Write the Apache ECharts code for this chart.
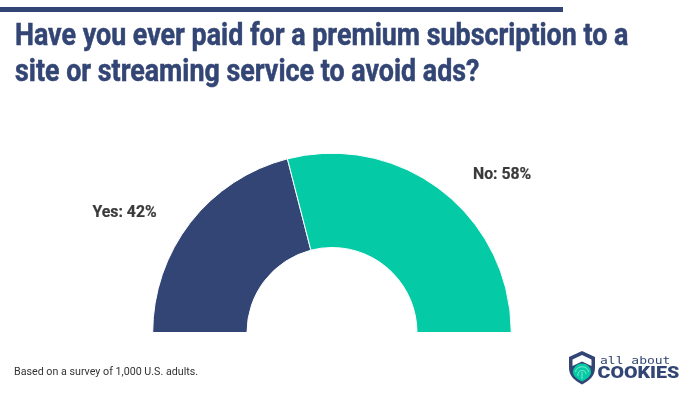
<!DOCTYPE html>
<html><head><meta charset="utf-8">
<style>html,body{margin:0;padding:0;background:#fff}#c{width:700px;height:402px}</style>
<script src="https://cdn.jsdelivr.net/npm/echarts@6/dist/echarts.min.js"></script>
</head><body><div id="c"></div>
<script>
const categories = ["Yes", "No"];
const values = [42, 58];
const colors = ["#324574", "#04CBA5"];
const titleLines = ["Have you ever paid for a premium subscription to a", "site or streaming service to avoid ads?"];
const footnote = "Based on a survey of 1,000 U.S. adults.";
const navy = "#324574", teal = "#04CBA5";
const reg=(n,d)=>echarts.graphic.registerShape(n,echarts.graphic.extendPath(d));
reg('shieldOuter','M569 357 L582 351 L595 357 L595 368 C595 376 589 381 582 384.5 C575 381 569 376 569 368 Z');
reg('shieldRoof','M572.5 366 L572.5 359.5 L582 355 L591.5 359.5 L591.5 366 L582 361.5 Z');
reg('shieldTeal','M573 372 A9 8.5 0 0 1 591 372 C591 376 587 379 582 381.5 C577 379 573 376 573 372 Z');
reg('print','M575.5 372 C576 365 588 365 588.5 372 M578 376 C577 369 586 369 586 374 M582 379 L582 372');
const chart = echarts.init(document.getElementById('c'), null, {renderer:'canvas'});
const tx = (text,x,y,font,weight,size,fill,sx,sw)=>({type:'text',x,y,scaleX:sx||1,style:{text,fontFamily:font,fontWeight:weight,fontSize:size,fill,verticalAlign:'middle',stroke:sw?fill:null,lineWidth:sw||0}});
const labelSpots = [[92.5,212.5],[473,175]];
chart.setOption({
  animation:false,
  backgroundColor:'#fff',
  series:[{
    type:'pie',
    center:[332,332.5],
    radius:[85,179.3],
    startAngle:180,
    endAngle:0,
    silent:true,
    data:categories.map((n,i)=>({name:n,value:values[i],itemStyle:{color:colors[i]}})),
    itemStyle:{borderColor:'#fff',borderWidth:1},
    label:{show:false},
    labelLine:{show:false}
  }],
  graphic:[
    {type:'rect',shape:{x:0,y:7,width:563,height:5},style:{fill:navy}},
    tx(titleLines[0],15,37,'Roboto','bold',30.5,navy,0.88,0.5),
    tx(titleLines[1],15,73,'Roboto','bold',30.5,navy,0.88,0.5),
    tx(footnote,14,372,'Roboto','normal',11.5,'#333333',0.93),
    ...categories.map((n,i)=>tx(n+': '+values[i]+'%',labelSpots[i][0],labelSpots[i][1],'Roboto','bold',17,'#3a3a3a',0.93,0.2)),
    {type:'shieldOuter',style:{fill:navy}},
    {type:'shieldRoof',style:{fill:'#fff'}},
    {type:'shieldTeal',style:{fill:teal}},
    {type:'print',style:{fill:'none',stroke:'#b8efe3',lineWidth:0.7}},
    tx('all about',600,361,'DejaVu Sans Mono','normal',10,navy,1.3),
    tx('COOKIES',597.5,374,'Roboto','900',16.5,navy,1.19)
  ]
});
</script></body></html>
